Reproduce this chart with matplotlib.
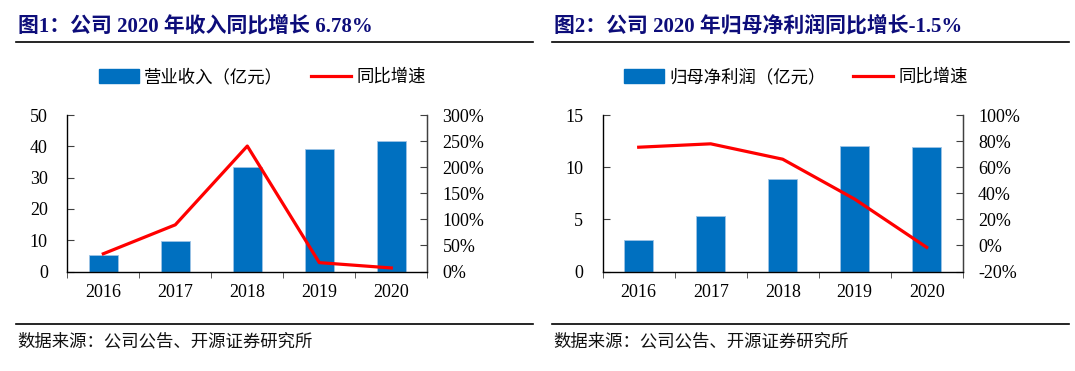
import numpy as np
import matplotlib
matplotlib.use("Agg")
import matplotlib.pyplot as plt
from matplotlib.lines import Line2D
from matplotlib.patches import Patch

years = ["2016", "2017", "2018", "2019", "2020"]
revenue = [5.2, 9.9, 33.5, 39.0, 41.6]            # 营业收入 (亿元)
revenue_yoy = [34, 89.5, 240.5, 17, 6.78]          # %
profit = [3.0, 5.35, 8.85, 12.05, 11.9]           # 归母净利润 (亿元)
profit_yoy = [75.3, 77.9, 66.1, 35.5, -1.5]       # %

title1 = "图1：公司 2020 年收入同比增长 6.78%"
title2 = "图2：公司 2020 年归母净利润同比增长-1.5%"
source = "数据来源：公司公告、开源证券研究所"

BLUE = "#0070C0"
RED = "#FF0000"
NAVY = "#0D0D7A"
SERIF = ["Liberation Serif", "Noto Sans CJK SC"]
CJK = ["Noto Sans CJK SC", "DejaVu Sans"]

W, H = 1075, 371
fig = plt.figure(figsize=(W / 100, H / 100), dpi=100)


def px_axes(x0, y0, x1, y1):
    # pixel box (top-left origin) -> figure fraction
    return fig.add_axes([x0 / W, 1 - y1 / H, (x1 - x0) / W, (y1 - y0) / H])


def panel(x0, bars, yoy, ylim, yticks, rlim, rticks, bar_label, title, tx, lx):
    ax = px_axes(x0, 115, x0 + 360, 271.5)
    x = np.arange(len(years))
    ax.bar(x, bars, width=0.4, color=BLUE, edgecolor="#9DC3E6", lw=0.6, zorder=2)
    ax.set_xlim(-0.5, len(years) - 0.5)
    ax.set_ylim(*ylim)
    ax.set_yticks(yticks)
    ax.set_xticks(x)
    ax.set_xticklabels(years)
    ax.set_xticks(np.arange(-0.5, len(years), 1.0), minor=True)
    ax.tick_params(axis="x", which="major", length=0, pad=9, labelsize=13)
    ax.tick_params(axis="x", which="minor", length=4, direction="out", color="#404040")
    ax.tick_params(axis="y", direction="in", length=5, pad=14, labelsize=13, color="#404040")
    for lab in ax.get_xticklabels() + ax.get_yticklabels():
        lab.set_family(SERIF)
    ax.spines["top"].set_visible(False)
    for s in ("left", "bottom", "right"):
        ax.spines[s].set_color("#404040")
        ax.spines[s].set_linewidth(1.0)

    ax2 = ax.twinx()
    ax2.plot(x, yoy, color=RED, lw=2.3, zorder=3)
    ax2.set_ylim(*rlim)
    ax2.set_yticks(rticks)
    ax2.set_yticklabels([f"{t:d}%" for t in rticks])
    ax2.tick_params(axis="y", direction="in", length=5, pad=11, labelsize=13, color="#404040")
    for lab in ax2.get_yticklabels():
        lab.set_family(SERIF)
    ax2.spines["top"].set_visible(False)
    ax2.spines["right"].set_color("#404040")

    # title + rules
    fig.text(tx / W, 1 - 26 / H, title, family=SERIF, fontsize=15, fontweight="bold",
             color=NAVY, va="center", ha="left")
    fig.add_artist(Line2D([(tx - 2) / W, (tx + 515) / W], [1 - 41.5 / H] * 2,
                          color="black", lw=1.2))
    fig.add_artist(Line2D([(tx - 2) / W, (tx + 515) / W], [1 - 323.5 / H] * 2,
                          color="black", lw=1.2))
    fig.text((tx - 1) / W, 1 - 341.5 / H, source, family=CJK, fontsize=12.5,
             va="center", ha="left", color="#111111")

    handles = [Patch(facecolor=BLUE, edgecolor=BLUE),
               Line2D([], [], color=RED, lw=2.3)]
    fig.legend(handles, [bar_label, "同比增速"], loc="center left",
               bbox_to_anchor=(lx / W, 1 - 77 / H), ncol=2, frameon=False,
               prop={"family": CJK, "size": 12.5}, handlelength=2.3, handleheight=0.8,
               handletextpad=0.3, columnspacing=1.6, borderaxespad=0, borderpad=0)
    return ax, ax2


panel(67.3, revenue, revenue_yoy, (0, 50), [0, 10, 20, 30, 40, 50],
      (0, 300), [0, 50, 100, 150, 200, 250, 300], "营业收入（亿元）", title1, 18, 99)
panel(602.7, profit, profit_yoy, (0, 15), [0, 5, 10, 15],
      (-20, 100), [-20, 0, 20, 40, 60, 80, 100], "归母净利润（亿元）", title2, 554, 624)

fig.savefig("out.png", dpi=100)
